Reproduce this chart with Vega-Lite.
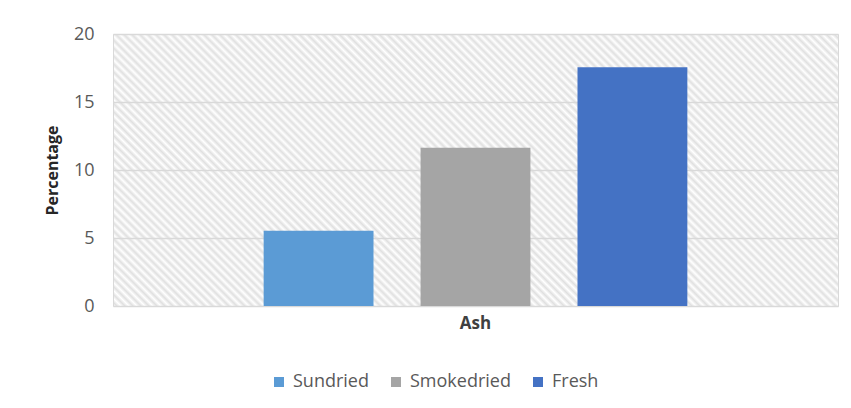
{
  "$schema": "https://vega.github.io/schema/vega-lite/v6.json",
  "width": 725,
  "height": 272,
  "autosize": "none",
  "padding": {"left": 113, "top": 34, "right": 13, "bottom": 102},
  "background": "#ffffff",
  "config": {
    "font": "Open Sans",
    "view": {
      "stroke": "#d9d9d9",
      "strokeWidth": 1,
      "fill": {
        "gradient": "linear", "x1": 0, "y1": 1, "x2": 1.2056, "y2": 0.546,
        "stops": [
          {"offset":0,"color":"#fff"},{"offset":0.004,"color":"#e0e0e0"},{"offset":0.008,"color":"#fff"},{"offset":0.012,"color":"#e0e0e0"},{"offset":0.016,"color":"#fff"},{"offset":0.02,"color":"#e0e0e0"},{"offset":0.024,"color":"#fff"},{"offset":0.028,"color":"#e0e0e0"},{"offset":0.032,"color":"#fff"},{"offset":0.036,"color":"#e0e0e0"},
          {"offset":0.04,"color":"#fff"},{"offset":0.044,"color":"#e0e0e0"},{"offset":0.048,"color":"#fff"},{"offset":0.052,"color":"#e0e0e0"},{"offset":0.056,"color":"#fff"},{"offset":0.06,"color":"#e0e0e0"},{"offset":0.064,"color":"#fff"},{"offset":0.068,"color":"#e0e0e0"},{"offset":0.072,"color":"#fff"},{"offset":0.076,"color":"#e0e0e0"},
          {"offset":0.08,"color":"#fff"},{"offset":0.084,"color":"#e0e0e0"},{"offset":0.088,"color":"#fff"},{"offset":0.092,"color":"#e0e0e0"},{"offset":0.096,"color":"#fff"},{"offset":0.1,"color":"#e0e0e0"},{"offset":0.104,"color":"#fff"},{"offset":0.108,"color":"#e0e0e0"},{"offset":0.112,"color":"#fff"},{"offset":0.116,"color":"#e0e0e0"},
          {"offset":0.12,"color":"#fff"},{"offset":0.124,"color":"#e0e0e0"},{"offset":0.128,"color":"#fff"},{"offset":0.132,"color":"#e0e0e0"},{"offset":0.136,"color":"#fff"},{"offset":0.14,"color":"#e0e0e0"},{"offset":0.144,"color":"#fff"},{"offset":0.148,"color":"#e0e0e0"},{"offset":0.152,"color":"#fff"},{"offset":0.156,"color":"#e0e0e0"},
          {"offset":0.16,"color":"#fff"},{"offset":0.164,"color":"#e0e0e0"},{"offset":0.168,"color":"#fff"},{"offset":0.172,"color":"#e0e0e0"},{"offset":0.176,"color":"#fff"},{"offset":0.18,"color":"#e0e0e0"},{"offset":0.184,"color":"#fff"},{"offset":0.188,"color":"#e0e0e0"},{"offset":0.192,"color":"#fff"},{"offset":0.196,"color":"#e0e0e0"},
          {"offset":0.2,"color":"#fff"},{"offset":0.204,"color":"#e0e0e0"},{"offset":0.208,"color":"#fff"},{"offset":0.212,"color":"#e0e0e0"},{"offset":0.216,"color":"#fff"},{"offset":0.22,"color":"#e0e0e0"},{"offset":0.224,"color":"#fff"},{"offset":0.228,"color":"#e0e0e0"},{"offset":0.232,"color":"#fff"},{"offset":0.236,"color":"#e0e0e0"},
          {"offset":0.24,"color":"#fff"},{"offset":0.244,"color":"#e0e0e0"},{"offset":0.248,"color":"#fff"},{"offset":0.252,"color":"#e0e0e0"},{"offset":0.256,"color":"#fff"},{"offset":0.26,"color":"#e0e0e0"},{"offset":0.264,"color":"#fff"},{"offset":0.268,"color":"#e0e0e0"},{"offset":0.272,"color":"#fff"},{"offset":0.276,"color":"#e0e0e0"},
          {"offset":0.28,"color":"#fff"},{"offset":0.284,"color":"#e0e0e0"},{"offset":0.288,"color":"#fff"},{"offset":0.292,"color":"#e0e0e0"},{"offset":0.296,"color":"#fff"},{"offset":0.3,"color":"#e0e0e0"},{"offset":0.304,"color":"#fff"},{"offset":0.308,"color":"#e0e0e0"},{"offset":0.312,"color":"#fff"},{"offset":0.316,"color":"#e0e0e0"},
          {"offset":0.32,"color":"#fff"},{"offset":0.324,"color":"#e0e0e0"},{"offset":0.328,"color":"#fff"},{"offset":0.332,"color":"#e0e0e0"},{"offset":0.336,"color":"#fff"},{"offset":0.34,"color":"#e0e0e0"},{"offset":0.344,"color":"#fff"},{"offset":0.348,"color":"#e0e0e0"},{"offset":0.352,"color":"#fff"},{"offset":0.356,"color":"#e0e0e0"},
          {"offset":0.36,"color":"#fff"},{"offset":0.364,"color":"#e0e0e0"},{"offset":0.368,"color":"#fff"},{"offset":0.372,"color":"#e0e0e0"},{"offset":0.376,"color":"#fff"},{"offset":0.38,"color":"#e0e0e0"},{"offset":0.384,"color":"#fff"},{"offset":0.388,"color":"#e0e0e0"},{"offset":0.392,"color":"#fff"},{"offset":0.396,"color":"#e0e0e0"},
          {"offset":0.4,"color":"#fff"},{"offset":0.404,"color":"#e0e0e0"},{"offset":0.408,"color":"#fff"},{"offset":0.412,"color":"#e0e0e0"},{"offset":0.416,"color":"#fff"},{"offset":0.42,"color":"#e0e0e0"},{"offset":0.424,"color":"#fff"},{"offset":0.428,"color":"#e0e0e0"},{"offset":0.432,"color":"#fff"},{"offset":0.436,"color":"#e0e0e0"},
          {"offset":0.44,"color":"#fff"},{"offset":0.444,"color":"#e0e0e0"},{"offset":0.448,"color":"#fff"},{"offset":0.452,"color":"#e0e0e0"},{"offset":0.456,"color":"#fff"},{"offset":0.46,"color":"#e0e0e0"},{"offset":0.464,"color":"#fff"},{"offset":0.468,"color":"#e0e0e0"},{"offset":0.472,"color":"#fff"},{"offset":0.476,"color":"#e0e0e0"},
          {"offset":0.48,"color":"#fff"},{"offset":0.484,"color":"#e0e0e0"},{"offset":0.488,"color":"#fff"},{"offset":0.492,"color":"#e0e0e0"},{"offset":0.496,"color":"#fff"},{"offset":0.5,"color":"#e0e0e0"},{"offset":0.504,"color":"#fff"},{"offset":0.508,"color":"#e0e0e0"},{"offset":0.512,"color":"#fff"},{"offset":0.516,"color":"#e0e0e0"},
          {"offset":0.52,"color":"#fff"},{"offset":0.524,"color":"#e0e0e0"},{"offset":0.528,"color":"#fff"},{"offset":0.532,"color":"#e0e0e0"},{"offset":0.536,"color":"#fff"},{"offset":0.54,"color":"#e0e0e0"},{"offset":0.544,"color":"#fff"},{"offset":0.548,"color":"#e0e0e0"},{"offset":0.552,"color":"#fff"},{"offset":0.556,"color":"#e0e0e0"},
          {"offset":0.56,"color":"#fff"},{"offset":0.564,"color":"#e0e0e0"},{"offset":0.568,"color":"#fff"},{"offset":0.572,"color":"#e0e0e0"},{"offset":0.576,"color":"#fff"},{"offset":0.58,"color":"#e0e0e0"},{"offset":0.584,"color":"#fff"},{"offset":0.588,"color":"#e0e0e0"},{"offset":0.592,"color":"#fff"},{"offset":0.596,"color":"#e0e0e0"},
          {"offset":0.6,"color":"#fff"},{"offset":0.604,"color":"#e0e0e0"},{"offset":0.608,"color":"#fff"},{"offset":0.612,"color":"#e0e0e0"},{"offset":0.616,"color":"#fff"},{"offset":0.62,"color":"#e0e0e0"},{"offset":0.624,"color":"#fff"},{"offset":0.628,"color":"#e0e0e0"},{"offset":0.632,"color":"#fff"},{"offset":0.636,"color":"#e0e0e0"},
          {"offset":0.64,"color":"#fff"},{"offset":0.644,"color":"#e0e0e0"},{"offset":0.648,"color":"#fff"},{"offset":0.652,"color":"#e0e0e0"},{"offset":0.656,"color":"#fff"},{"offset":0.66,"color":"#e0e0e0"},{"offset":0.664,"color":"#fff"},{"offset":0.668,"color":"#e0e0e0"},{"offset":0.672,"color":"#fff"},{"offset":0.676,"color":"#e0e0e0"},
          {"offset":0.68,"color":"#fff"},{"offset":0.684,"color":"#e0e0e0"},{"offset":0.688,"color":"#fff"},{"offset":0.692,"color":"#e0e0e0"},{"offset":0.696,"color":"#fff"},{"offset":0.7,"color":"#e0e0e0"},{"offset":0.704,"color":"#fff"},{"offset":0.708,"color":"#e0e0e0"},{"offset":0.712,"color":"#fff"},{"offset":0.716,"color":"#e0e0e0"},
          {"offset":0.72,"color":"#fff"},{"offset":0.724,"color":"#e0e0e0"},{"offset":0.728,"color":"#fff"},{"offset":0.732,"color":"#e0e0e0"},{"offset":0.736,"color":"#fff"},{"offset":0.74,"color":"#e0e0e0"},{"offset":0.744,"color":"#fff"},{"offset":0.748,"color":"#e0e0e0"},{"offset":0.752,"color":"#fff"},{"offset":0.756,"color":"#e0e0e0"},
          {"offset":0.76,"color":"#fff"},{"offset":0.764,"color":"#e0e0e0"},{"offset":0.768,"color":"#fff"},{"offset":0.772,"color":"#e0e0e0"},{"offset":0.776,"color":"#fff"},{"offset":0.78,"color":"#e0e0e0"},{"offset":0.784,"color":"#fff"},{"offset":0.788,"color":"#e0e0e0"},{"offset":0.792,"color":"#fff"},{"offset":0.796,"color":"#e0e0e0"},
          {"offset":0.8,"color":"#fff"},{"offset":0.804,"color":"#e0e0e0"},{"offset":0.808,"color":"#fff"},{"offset":0.812,"color":"#e0e0e0"},{"offset":0.816,"color":"#fff"},{"offset":0.82,"color":"#e0e0e0"},{"offset":0.824,"color":"#fff"},{"offset":0.828,"color":"#e0e0e0"},{"offset":0.832,"color":"#fff"},{"offset":0.836,"color":"#e0e0e0"},
          {"offset":0.84,"color":"#fff"},{"offset":0.844,"color":"#e0e0e0"},{"offset":0.848,"color":"#fff"},{"offset":0.852,"color":"#e0e0e0"},{"offset":0.856,"color":"#fff"},{"offset":0.86,"color":"#e0e0e0"},{"offset":0.864,"color":"#fff"},{"offset":0.868,"color":"#e0e0e0"},{"offset":0.872,"color":"#fff"},{"offset":0.876,"color":"#e0e0e0"},
          {"offset":0.88,"color":"#fff"},{"offset":0.884,"color":"#e0e0e0"},{"offset":0.888,"color":"#fff"},{"offset":0.892,"color":"#e0e0e0"},{"offset":0.896,"color":"#fff"},{"offset":0.9,"color":"#e0e0e0"},{"offset":0.904,"color":"#fff"},{"offset":0.908,"color":"#e0e0e0"},{"offset":0.912,"color":"#fff"},{"offset":0.916,"color":"#e0e0e0"},
          {"offset":0.92,"color":"#fff"},{"offset":0.924,"color":"#e0e0e0"},{"offset":0.928,"color":"#fff"},{"offset":0.932,"color":"#e0e0e0"},{"offset":0.936,"color":"#fff"},{"offset":0.94,"color":"#e0e0e0"},{"offset":0.944,"color":"#fff"},{"offset":0.948,"color":"#e0e0e0"},{"offset":0.952,"color":"#fff"},{"offset":0.956,"color":"#e0e0e0"},
          {"offset":0.96,"color":"#fff"},{"offset":0.964,"color":"#e0e0e0"},{"offset":0.968,"color":"#fff"},{"offset":0.972,"color":"#e0e0e0"},{"offset":0.976,"color":"#fff"},{"offset":0.98,"color":"#e0e0e0"},{"offset":0.984,"color":"#fff"},{"offset":0.988,"color":"#e0e0e0"},{"offset":0.992,"color":"#fff"},{"offset":0.996,"color":"#e0e0e0"},
          {"offset":1,"color":"#fff"}
        ]
      }
    },
    "axis": {"labelFont": "Open Sans", "titleFont": "Open Sans"},
    "legend": {"labelFont": "Open Sans"}
  },
  "data": {
    "values": [
      {"nutrient": "Ash", "method": "Sundried", "value": 5.53},
      {"nutrient": "Ash", "method": "Smokedried", "value": 11.63},
      {"nutrient": "Ash", "method": "Fresh", "value": 17.55}
    ]
  },
  "mark": {"type": "bar"},
  "encoding": {
    "x": {
      "field": "nutrient",
      "type": "nominal",
      "scale": {"paddingInner": 0, "paddingOuter": 0.27},
      "axis": {
        "title": null,
        "labelAngle": 0,
        "labelFontSize": 17,
        "labelFontWeight": "bold",
        "labelColor": "#404040",
        "labelPadding": 9,
        "ticks": false,
        "domain": false
      }
    },
    "xOffset": {
      "field": "method",
      "type": "nominal",
      "sort": ["Sundried", "Smokedried", "Fresh"],
      "scale": {"paddingInner": 0.3, "paddingOuter": 0.15}
    },
    "y": {
      "field": "value",
      "type": "quantitative",
      "scale": {"domain": [0, 20], "nice": false},
      "axis": {
        "values": [0, 5, 10, 15, 20],
        "title": "Percentage",
        "titleFontSize": 16,
        "titleFontWeight": "bold",
        "titleColor": "#262626",
        "titlePadding": 13,
        "labelFontSize": 18,
        "labelColor": "#595959",
        "labelPadding": 19,
        "ticks": false,
        "domain": false,
        "gridColor": "#d9d9d9",
        "gridWidth": 1.5
      }
    },
    "color": {
      "field": "method",
      "type": "nominal",
      "sort": ["Sundried", "Smokedried", "Fresh"],
      "scale": {"range": ["#5b9bd5", "#a5a5a5", "#4472c4"]},
      "legend": {
        "title": null,
        "orient": "none",
        "direction": "horizontal",
        "legendX": 157,
        "legendY": 339,
        "symbolType": "square",
        "symbolSize": 100,
        "symbolStrokeWidth": 0,
        "labelFontSize": 18,
        "labelColor": "#595959",
        "labelOffset": 5,
        "columnPadding": 18
      }
    }
  }
}
